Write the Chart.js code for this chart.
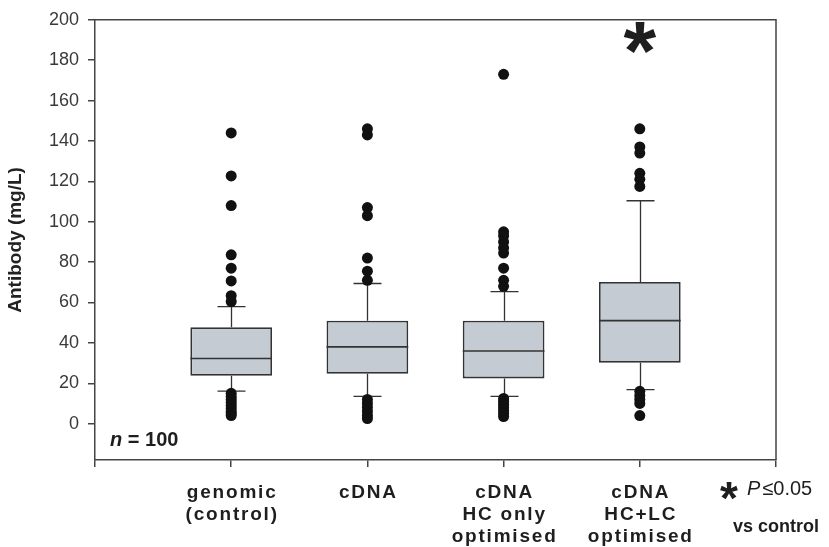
<!DOCTYPE html>
<html>
<head>
<meta charset="utf-8">
<script src="https://cdn.jsdelivr.net/npm/chart.js@4.4.1/dist/chart.umd.min.js"></script>
<style>
  html, body { margin: 0; padding: 0; background: #fff; }
</style>
</head>
<body>
<canvas id="chart" width="829" height="547"></canvas>
<script>
// Antibody titres per construct (box = quartiles, whiskers = 10th/90th, dots = outliers)
const groups = [
    ['genomic', '(control)'],
    ['cDNA'],
    ['cDNA', 'HC only', 'optimised'],
    ['cDNA', 'HC+LC', 'optimised']
];
const q1 = [23.7, 24.7, 22.4, 30.2];
const median = [32.3, 38, 36, 51];
const q3 = [47.8, 51, 51, 70.2];
const whiskerLow = [16.1, 13.5, 13.5, 16.9];
const whiskerHigh = [58, 69.4, 65.4, 110.4];

const outliersGenomic = [144, 122.7, 108, 83.6, 77, 70.7, 63.4, 60.5, 15, 13.5, 12, 10.5, 9, 7.5, 6, 5, 4];
const outliersCdna = [146, 143, 107, 103, 82, 75.5, 71, 12, 10, 8, 6, 4, 2.5];
const outliersHcOnly = [173, 95, 93, 90, 87, 84.5, 77, 71, 68, 12.5, 11, 9.5, 8, 6.5, 5, 3.5];
const outliersHcLc = [146, 137, 134, 124, 121, 117.5, 16, 14, 12, 10, 4];

const yTicks = [0, 20, 40, 60, 80, 100, 120, 140, 160, 180, 200];
const significant = [false, false, false, true];
const sampleSize = 100;

const FONT = "'Liberation Sans', Arial, sans-serif";
const INK = '#333';
const capHalf = 14;

const outliers = [outliersGenomic, outliersCdna, outliersHcOnly, outliersHcLc];
const boxData = groups.map((g, i) => ({ x: i + 1, y: [q1[i], q3[i]] }));
const dotData = outliers.flatMap((vals, i) => vals.map(v => ({ x: i + 1, y: v })));

const boxExtras = {
    id: 'boxExtras',
    beforeDatasetsDraw(chart) {
        const { ctx, scales: { x, y } } = chart;
        ctx.save();
        ctx.strokeStyle = INK;
        ctx.lineWidth = 1.3;
        groups.forEach((g, i) => {
            const px = Math.round(x.getPixelForValue(i + 1)) + 0.5;
            [[q3[i], whiskerHigh[i]], [q1[i], whiskerLow[i]]].forEach(([from, to]) => {
                const end = y.getPixelForValue(to);
                ctx.beginPath();
                ctx.moveTo(px, y.getPixelForValue(from));
                ctx.lineTo(px, end);
                ctx.moveTo(px - capHalf, end);
                ctx.lineTo(px + capHalf, end);
                ctx.stroke();
            });
        });
        ctx.restore();
    },
    afterDatasetsDraw(chart) {
        const { ctx, chartArea, scales: { y } } = chart;
        const bars = chart.getDatasetMeta(0).data;
        ctx.save();
        ctx.strokeStyle = INK;
        ctx.lineWidth = 1.6;
        bars.forEach((bar, i) => {
            const py = y.getPixelForValue(median[i]);
            ctx.beginPath();
            ctx.moveTo(bar.x - bar.width / 2, py);
            ctx.lineTo(bar.x + bar.width / 2, py);
            ctx.stroke();
        });
        // top and right edges of the frame
        ctx.strokeStyle = '#444';
        ctx.lineWidth = 1.5;
        ctx.beginPath();
        ctx.moveTo(chartArea.left, chartArea.top);
        ctx.lineTo(chartArea.right, chartArea.top);
        ctx.lineTo(chartArea.right, chartArea.bottom);
        ctx.stroke();
        ctx.restore();
    },
    afterDraw(chart) {
        const { ctx, chartArea, scales: { x } } = chart;
        ctx.save();
        ctx.fillStyle = '#1e1e1e';
        ctx.textAlign = 'center';
        ctx.textBaseline = 'middle';

        // category labels
        ctx.font = `bold 19px ${FONT}`;
        ctx.letterSpacing = '1.8px';
        groups.forEach((lines, i) => {
            const px = x.getPixelForValue(i + 1) + 1;
            lines.forEach((line, k) => ctx.fillText(line, px, chartArea.bottom + 33 + k * 22));
        });
        ctx.letterSpacing = '0px';

        // significance marks
        ctx.font = `bold 84px ${FONT}`;
        ctx.textBaseline = 'alphabetic';
        significant.forEach((s, i) => {
            if (s) ctx.fillText('*', x.getPixelForValue(i + 1), chartArea.top + 60);
        });

        // n = 100
        ctx.textAlign = 'left';
        ctx.textBaseline = 'middle';
        ctx.font = `italic bold 20px ${FONT}`;
        ctx.fillText('n', chartArea.left + 15, chartArea.top + 421);
        const nw = ctx.measureText('n').width;
        ctx.font = `bold 20px ${FONT}`;
        ctx.fillText(' = ' + sampleSize, chartArea.left + 15 + nw, chartArea.top + 421);

        // key
        const kx = x.getPixelForValue(5);
        ctx.font = `bold 46px ${FONT}`;
        ctx.textBaseline = 'alphabetic';
        ctx.fillText('*', kx - 56, chartArea.bottom + 54);
        ctx.textBaseline = 'middle';
        ctx.font = `italic 20px ${FONT}`;
        ctx.fillText('P', kx - 29, chartArea.bottom + 29);
        const pw = ctx.measureText('P').width;
        ctx.font = `20px ${FONT}`;
        ctx.fillText('\u22640.05', kx - 29 + pw + 2, chartArea.bottom + 29);
        ctx.font = `bold 18px ${FONT}`;
        ctx.textAlign = 'center';
        ctx.fillText('vs control', kx, chartArea.bottom + 67);
        ctx.restore();
    }
};

new Chart(document.getElementById('chart'), {
    type: 'bar',
    data: {
        datasets: [
            {
                type: 'bar',
                data: boxData,
                backgroundColor: '#c5cbd3',
                borderColor: INK,
                borderWidth: 1.8,
                borderSkipped: false,
                barPercentage: 0.6,
                categoryPercentage: 1,
                order: 2
            },
            {
                type: 'scatter',
                data: dotData,
                backgroundColor: '#111',
                borderWidth: 0,
                pointRadius: 5.5,
                order: 1
            }
        ]
    },
    options: {
        responsive: false,
        animation: false,
        events: [],
        layout: { padding: { top: 13, right: 53, left: 0, bottom: 0 } },
        plugins: { legend: { display: false }, tooltip: { enabled: false } },
        scales: {
            x: {
                type: 'linear',
                min: 0,
                max: 5,
                offset: false,
                ticks: { stepSize: 1, display: false },
                grid: { drawOnChartArea: false, offset: false, tickLength: 7, color: '#444', lineWidth: 1.5 },
                border: { color: '#444', width: 1.5 },
                afterFit: s => { s.height = 87; }
            },
            y: {
                min: -18,
                max: 200,
                afterBuildTicks: s => { s.ticks = yTicks.map(v => ({ value: v })); },
                ticks: { color: '#3a3a3a', padding: 9, font: { family: FONT, size: 18 } },
                grid: { drawOnChartArea: false, tickLength: 7, color: '#444', lineWidth: 1.5 },
                border: { color: '#444', width: 1.5 },
                title: {
                    display: true,
                    text: 'Antibody (mg/L)',
                    color: '#222',
                    font: { family: FONT, size: 19, weight: 'bold' },
                    padding: { top: 4, bottom: 0 }
                },
                afterFit: s => { s.width = 95; }
            }
        }
    },
    plugins: [boxExtras]
});
</script>
</body>
</html>
